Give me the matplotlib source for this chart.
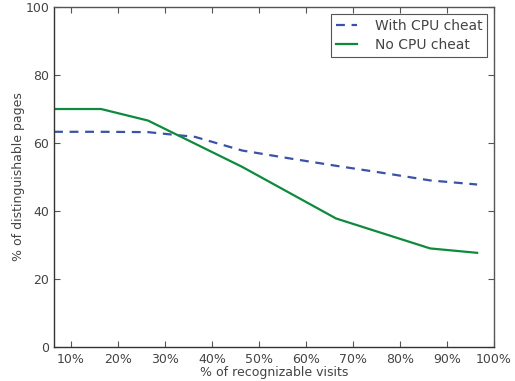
import matplotlib
matplotlib.use("Agg")
import matplotlib.pyplot as plt
from matplotlib.ticker import FuncFormatter

x_vals = [6.4, 16.4, 26.4, 36.4, 46.4, 56.4, 66.4, 76.4, 86.4, 96.4]
with_cheat = [63.3, 63.3, 63.2, 61.8, 57.8, 55.5, 53.3, 51.2, 49.0, 47.8]
no_cheat = [70.0, 70.0, 66.6, 59.8, 53.0, 45.4, 37.8, 33.4, 29.0, 27.7]
x_ticks = [10, 20, 30, 40, 50, 60, 70, 80, 90, 100]
y_ticks = [0, 20, 40, 60, 80, 100]

text_color = "#444444"
plt.rcParams['font.family'] = ['DejaVu Sans']

fig = plt.figure(figsize=(5.15, 3.81), dpi=100)
ax = fig.add_axes([0.1049, 0.0892, 0.8544, 0.8924])

ax.plot(x_vals, with_cheat, linestyle=(0, (4, 3)), color="#3a53a4", lw=1.6, label="With CPU cheat")
ax.plot(x_vals, no_cheat, linestyle="-", color="#0e8a3e", lw=1.6, label="No CPU cheat")

ax.set_xlim(6.4, 100)
ax.set_ylim(0, 100)
ax.set_xticks(x_ticks)
ax.set_yticks(y_ticks)
ax.xaxis.set_major_formatter(FuncFormatter(lambda v, p: f"{int(v)}%"))
ax.tick_params(direction="in", top=True, right=True, length=4, width=0.8,
               colors="#555555", labelcolor=text_color, labelsize=9)
ax.tick_params(axis="x", pad=4)
for s in ax.spines.values():
    s.set_color("#555555")
    s.set_linewidth(1.0)
ax.spines["left"].set_color("#333333")
ax.spines["bottom"].set_color("#333333")

ax.set_xlabel("% of recognizable visits", fontsize=9, color=text_color, labelpad=0)
ax.set_ylabel("% of distinguishable pages", fontsize=9, color=text_color)
ax.yaxis.set_label_coords(-0.066, 0.5)

leg = ax.legend(loc="upper right", fontsize=10, fancybox=False, framealpha=1,
                edgecolor="#555555", borderaxespad=0.5, handlelength=1.5,
                labelspacing=0.35, handletextpad=1.3, borderpad=0.35)
for t in leg.get_texts():
    t.set_color(text_color)
leg.get_frame().set_linewidth(0.8)

fig.savefig("out.png", dpi=100)
